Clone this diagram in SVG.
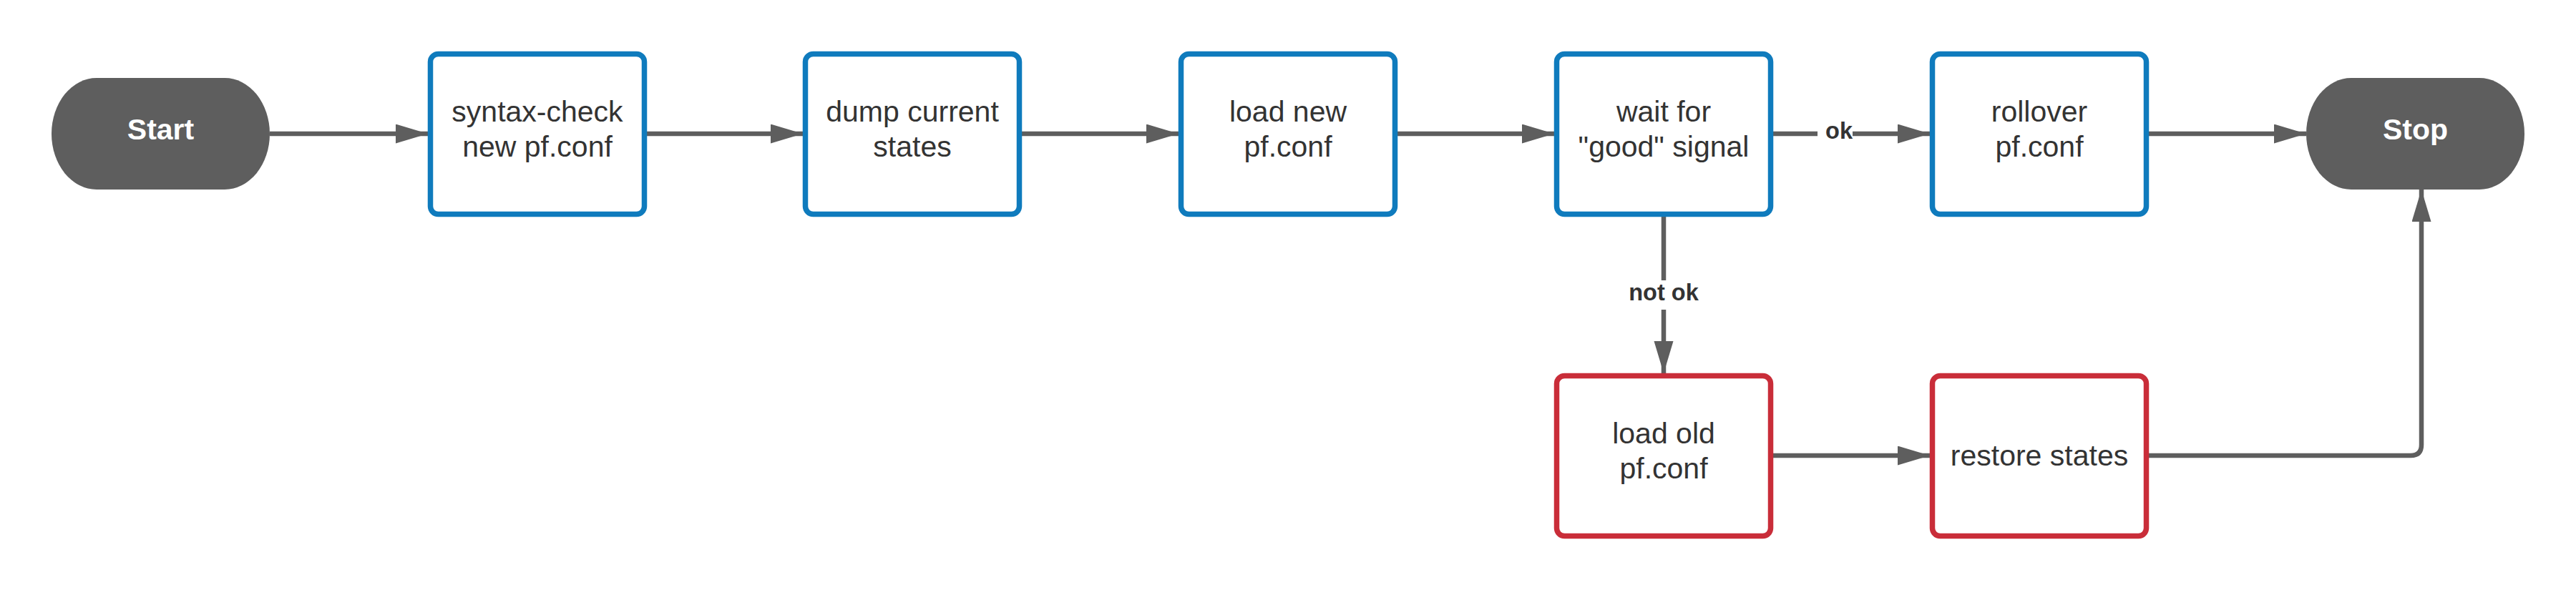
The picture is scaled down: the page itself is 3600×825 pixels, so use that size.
<svg xmlns="http://www.w3.org/2000/svg" width="3600" height="825" viewBox="0 0 3600 825">
  <defs>
    <marker id="arr" markerUnits="userSpaceOnUse" markerWidth="46" markerHeight="28" refX="45" refY="13.5" orient="auto">
      <path d="M0,0 L45,13.5 L0,27 z" fill="#5e5e5e"/>
    </marker>
    <style>
      .term { fill: #5e5e5e; }
      .termtxt { font-family: "Liberation Sans", Arial, sans-serif; font-weight: bold; font-size: 41px; fill: #ffffff; text-anchor: middle; }
      .box { fill: #ffffff; stroke-width: 7.5; }
      .blue { stroke: #0f7bbd; }
      .red { stroke: #c92d39; }
      .txt { font-family: "Liberation Sans", Arial, sans-serif; font-size: 41px; fill: #333333; text-anchor: middle; }
      .lbl { font-family: "Liberation Sans", Arial, sans-serif; font-weight: bold; font-size: 32.5px; fill: #333333; text-anchor: middle; }
      .conn { fill: none; stroke: #5e5e5e; stroke-width: 6.5; }
    </style>
  </defs>
  <rect width="3600" height="825" fill="#ffffff"/>

  <g id="connectors">
    <line class="conn" x1="377" y1="187" x2="598" y2="187" marker-end="url(#arr)"/>
    <line class="conn" x1="902" y1="187" x2="1122" y2="187" marker-end="url(#arr)"/>
    <line class="conn" x1="1428" y1="187" x2="1647" y2="187" marker-end="url(#arr)"/>
    <line class="conn" x1="1953" y1="187" x2="2172" y2="187" marker-end="url(#arr)"/>
    <line class="conn" x1="2478" y1="187" x2="2540" y2="187"/>
    <line class="conn" x1="2589" y1="187" x2="2697" y2="187" marker-end="url(#arr)"/>
    <text class="lbl" x="2570" y="194">ok</text>
    <line class="conn" x1="3003" y1="187" x2="3223" y2="187" marker-end="url(#arr)"/>
    <line class="conn" x1="2325" y1="303" x2="2325" y2="392"/>
    <line class="conn" x1="2325" y1="433" x2="2325" y2="522" marker-end="url(#arr)"/>
    <text class="lbl" x="2325" y="420">not ok</text>
    <line class="conn" x1="2478" y1="637" x2="2697" y2="637" marker-end="url(#arr)"/>
    <path class="conn" d="M3003,637 H3369 Q3384,637 3384,622 V265" marker-end="url(#arr)"/>
  </g>

  <g id="start">
    <rect class="term" x="72" y="109" width="305" height="156" rx="63" ry="78"/>
    <text class="termtxt" x="224.5" y="195">Start</text>
  </g>
  <g id="syntax-check">
    <rect class="box blue" x="601.5" y="75.5" width="299" height="224" rx="11"/>
    <text class="txt" x="751" y="170">syntax-check</text>
    <text class="txt" x="751" y="219">new pf.conf</text>
  </g>
  <g id="dump-states">
    <rect class="box blue" x="1125.5" y="75.5" width="299" height="224" rx="11"/>
    <text class="txt" x="1275" y="170">dump current</text>
    <text class="txt" x="1275" y="219">states</text>
  </g>
  <g id="load-new">
    <rect class="box blue" x="1650.5" y="75.5" width="299" height="224" rx="11"/>
    <text class="txt" x="1800" y="170">load new</text>
    <text class="txt" x="1800" y="219">pf.conf</text>
  </g>
  <g id="wait-signal">
    <rect class="box blue" x="2175.5" y="75.5" width="299" height="224" rx="11"/>
    <text class="txt" x="2325" y="170">wait for</text>
    <text class="txt" x="2325" y="219">"good" signal</text>
  </g>
  <g id="rollover">
    <rect class="box blue" x="2700.5" y="75.5" width="299" height="224" rx="11"/>
    <text class="txt" x="2850" y="170">rollover</text>
    <text class="txt" x="2850" y="219">pf.conf</text>
  </g>
  <g id="stop">
    <rect class="term" x="3223" y="109" width="305" height="156" rx="63" ry="78"/>
    <text class="termtxt" x="3375.5" y="195">Stop</text>
  </g>
  <g id="load-old">
    <rect class="box red" x="2175.5" y="525.5" width="299" height="224" rx="11"/>
    <text class="txt" x="2325" y="620">load old</text>
    <text class="txt" x="2325" y="669">pf.conf</text>
  </g>
  <g id="restore-states">
    <rect class="box red" x="2700.5" y="525.5" width="299" height="224" rx="11"/>
    <text class="txt" x="2850" y="651">restore states</text>
  </g>
</svg>
